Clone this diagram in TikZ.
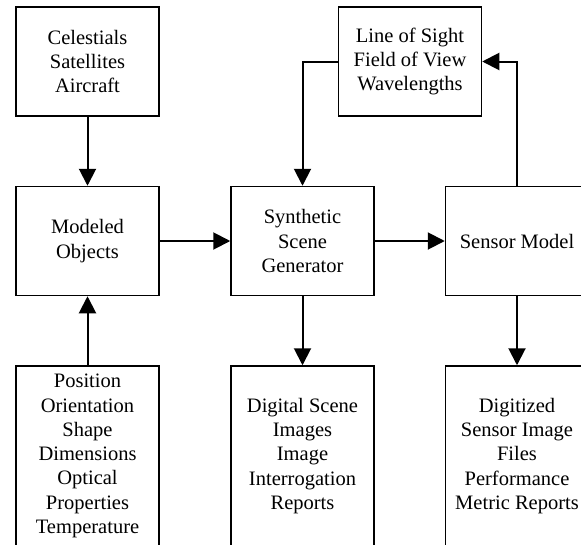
\documentclass[tikz,border=0pt]{standalone}
\usepackage{fontspec}
\setmainfont{Liberation Serif}
\usetikzlibrary{arrows.meta}
\begin{document}
\begin{tikzpicture}[x=1pt,y=-1pt,
  box/.style={draw, line width=1.5pt, rectangle, minimum width=143pt, minimum height=109pt,
    align=center, inner sep=0pt, font=\fontsize{20.5}{24.3}\selectfont},
  tallbox/.style={box, minimum height=180pt},
  conn/.style={line width=2pt, -{Triangle[length=17pt,width=17pt]}}]
\useasboundingbox (0,0) rectangle (581,544);
\clip (0,0) rectangle (581,544);
\node[box] (cel) at (87.5,61.5) {Celestials\\Satellites\\Aircraft};
\node[box] (los) at (410,61.5) {Line of Sight\\Field of View\\Wavelengths};
\node[box] (mod) at (87.5,241) {Modeled\\Objects};
\node[box] (syn) at (302.5,241) {Synthetic\\Scene\\Generator};
\node[box] (sen) at (517,241) {Sensor Model};
\node[tallbox] (pos) at (87.5,456) {Position\\Orientation\\Shape\\Dimensions\\Optical\\Properties\\Temperature};
\node[tallbox] (dig) at (302.5,456) {Digital Scene\\Images\\Image\\Interrogation\\Reports};
\node[tallbox] (dgz) at (517,456) {Digitized\\Sensor Image\\Files\\Performance\\Metric Reports};
\draw[conn] (cel.south) -- (mod.north);
\draw[conn] (pos.north) -- (mod.south);
\draw[conn] (mod.east) -- (syn.west);
\draw[conn] (syn.east) -- (sen.west);
\draw[conn] (syn.south) -- (dig.north);
\draw[conn] (sen.south) -- (dgz.north);
\draw[conn] (los.west) -| (syn.north);
\draw[conn] (sen.north) |- (los.east);
\end{tikzpicture}
\end{document}
